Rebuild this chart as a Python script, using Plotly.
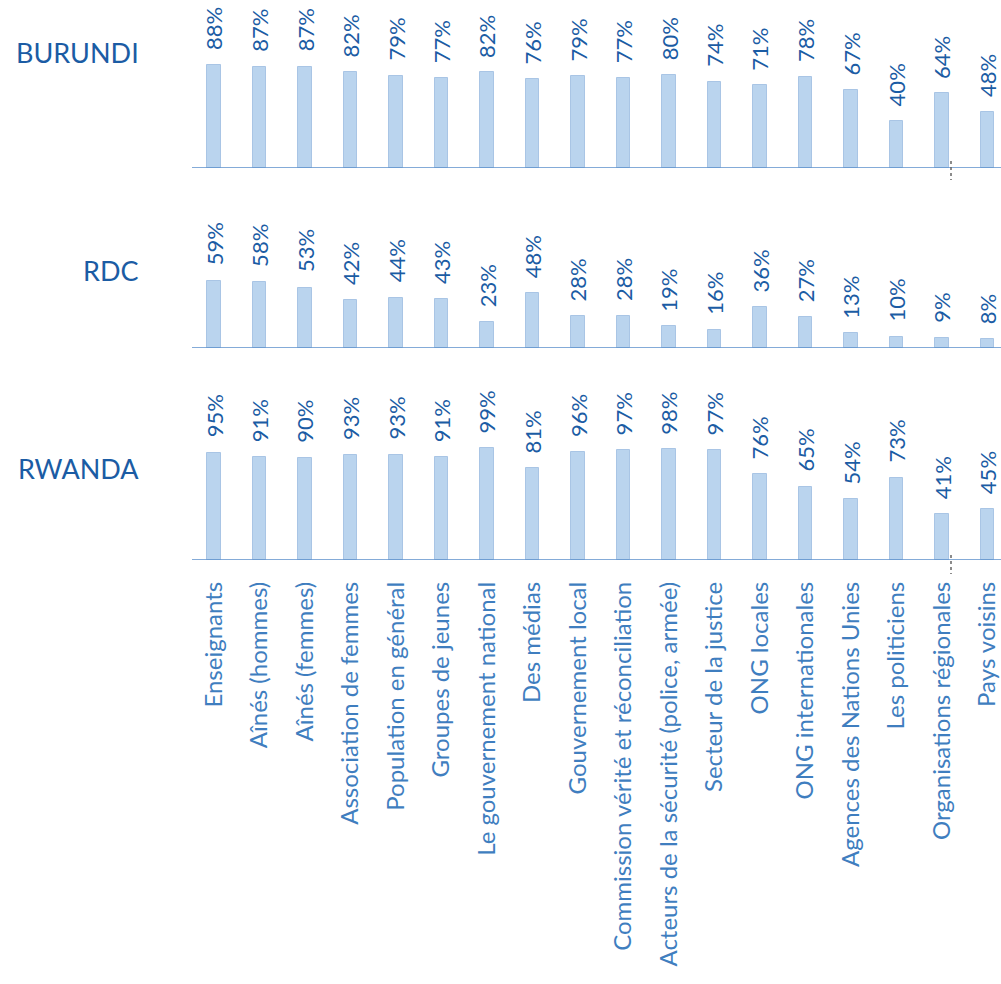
import plotly.graph_objects as go

categories = [
    "Enseignants", "Aînés (hommes)", "Aînés (femmes)", "Association de femmes",
    "Population en général", "Groupes de jeunes", "Le gouvernement national",
    "Des médias", "Gouvernement local", "Commission vérité et réconciliation",
    "Acteurs de la sécurité (police, armée)", "Secteur de la justice",
    "ONG locales", "ONG internationales", "Agences des Nations Unies",
    "Les politiciens", "Organisations régionales", "Pays voisins",
]
burundi = [88, 87, 87, 82, 79, 77, 82, 76, 79, 77, 80, 74, 71, 78, 67, 40, 64, 48]
rdc = [59, 58, 53, 42, 44, 43, 23, 48, 28, 28, 19, 16, 36, 27, 13, 10, 9, 8]
rwanda = [95, 91, 90, 93, 93, 91, 99, 81, 96, 97, 98, 97, 76, 65, 54, 73, 41, 45]
countries = ["BURUNDI", "RDC", "RWANDA"]

BAR = "#bad4ee"
BAR_EDGE = "#a9c5e5"
DARK = "#1b5ca4"
TICK = "#3f7ebf"
LINE = "#5b8fcb"
FONT = "Lato"

xs = list(range(len(categories)))
series = [burundi, rdc, rwanda]
yaxes = ["y", "y2", "y3"]

fig = go.Figure()
for vals, ya in zip(series, yaxes):
    fig.add_trace(go.Bar(
        x=xs, y=vals, xaxis="x", yaxis=ya, width=0.29,
        marker=dict(color=BAR, line=dict(color=BAR_EDGE, width=1)),
        showlegend=False, hoverinfo="skip",
    ))
    for xi, v in zip(xs, vals):
        fig.add_annotation(
            x=xi, y=v, xref="x", yref=ya, text=f"{v}%", textangle=-90,
            xanchor="center", yanchor="bottom", yshift=13, showarrow=False,
            font=dict(family=FONT, size=22, color=DARK),
        )

W = 1001
H = 984
plot_bottom = 560
def dom(top_ref, bottom_ref):
    return [1 - bottom_ref / plot_bottom, 1 - top_ref / plot_bottom]

fig.update_layout(
    width=W, height=H,
    margin=dict(l=192, r=0, t=0, b=H - plot_bottom),
    paper_bgcolor="white", plot_bgcolor="white",
    bargap=0,
    xaxis=dict(
        range=[-0.4835, 17.297], anchor="y3",
        tickmode="array", tickvals=xs, ticktext=categories,
        tickangle=-90, ticklabelstandoff=16,
        tickfont=dict(family=FONT, size=24, color=TICK),
        showgrid=False, zeroline=False, showline=False, ticks="",
    ),
    yaxis=dict(domain=dom(8, 168), range=[0, 160 / 1.165], visible=False),
    yaxis2=dict(domain=dom(185, 348), range=[0, 163 / 1.14], visible=False),
    yaxis3=dict(domain=dom(375, 560), range=[0, 185 / 1.13], visible=False),
)

def px_x(ref_x):
    return (ref_x - 192) / 809

def px_y(ref_y):
    return 1 - ref_y / plot_bottom

shapes = []
for ya in yaxes:
    shapes.append(dict(type="line", xref="paper", yref=ya, x0=0, x1=1, y0=0, y1=0,
                       line=dict(color=LINE, width=1.5)))
# small dotted marks near the regional organisations bar
for a, b in [(161, 180), (555, 574)]:
    shapes.append(dict(type="line", xref="paper", yref="paper",
                       x0=px_x(951), x1=px_x(951), y0=px_y(a), y1=px_y(b),
                       line=dict(color="#666666", width=1.5, dash="dot")))
fig.update_layout(shapes=shapes)

label_y = [52, 270, 468]
for name, py in zip(countries, label_y):
    fig.add_annotation(text=name, xref="paper", yref="paper",
                       x=px_x(141), y=px_y(py),
                       xanchor="right", yanchor="middle", showarrow=False,
                       font=dict(family=FONT, size=27, color=DARK))

fig.write_html(
    "out.html",
    config={"displayModeBar": False},
    post_script="document.documentElement.style.margin='0';"
                "document.body.style.margin='0';"
                "document.body.style.overflow='hidden';",
)
